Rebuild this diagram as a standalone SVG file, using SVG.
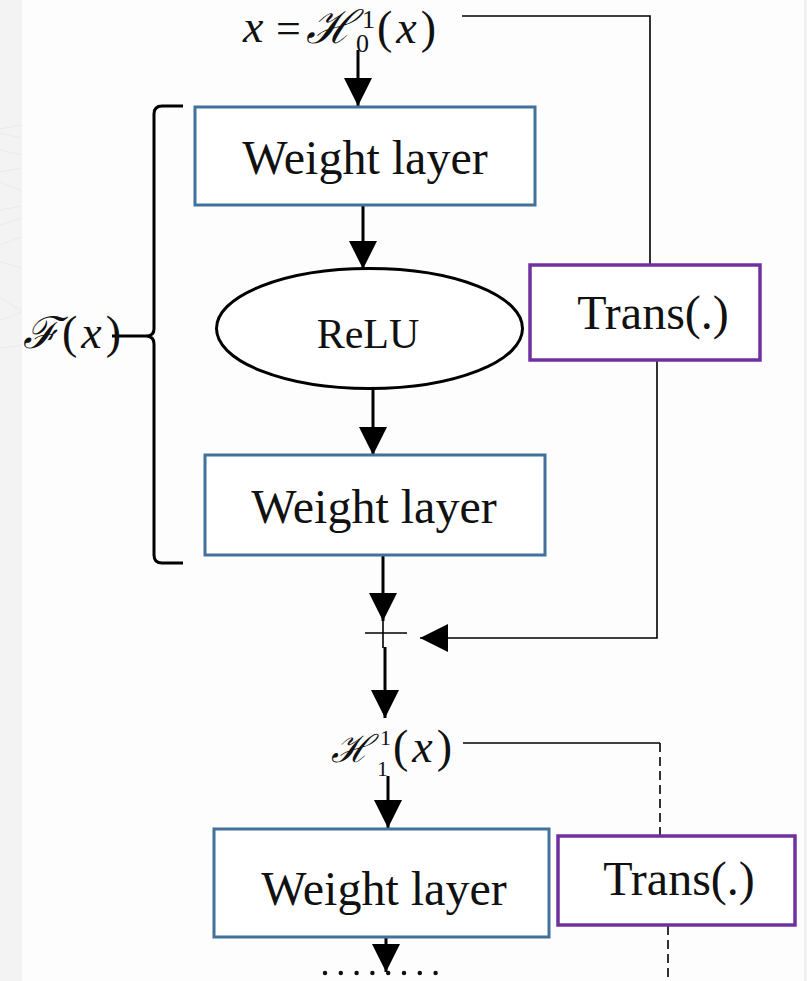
<svg xmlns="http://www.w3.org/2000/svg" width="807" height="981" viewBox="0 0 807 981">
  <style>
    .wl { fill: #ffffff; stroke: #41719c; stroke-width: 3; }
    .tr { fill: #ffffff; stroke: #7030a0; stroke-width: 3.5; }
    .lbl { font-family: "Times New Roman", "Liberation Serif", serif; fill: #111111; text-anchor: middle; }
    .num { font-family: "Liberation Serif", "Times New Roman", serif; fill: #111111; }
    .math { font-family: "Liberation Serif", "Times New Roman", serif; fill: #111111; letter-spacing: 4px; }
    .scr { font-family: "DejaVu Serif", "Liberation Serif", serif; font-style: italic; fill: #111111; }
    .thick { stroke: #000000; stroke-width: 3; fill: none; }
    .thin { stroke: #000000; stroke-width: 1.6; fill: none; }
    .dash { stroke: #000000; stroke-width: 1.6; fill: none; stroke-dasharray: 9 5; }
  </style>
  <defs>
    <marker id="arr" markerWidth="30" markerHeight="30" viewBox="0 0 30 28" refX="28" refY="14" orient="auto" markerUnits="userSpaceOnUse">
      <path d="M0,0 L28,14 L0,28 Z" fill="#000000"/>
    </marker>
  </defs>

  <!-- page background with side margins -->
  <rect x="0" y="0" width="807" height="981" fill="#fdfdfd"/>
  <rect x="0" y="0" width="22" height="981" fill="#f3f3f3"/>
  <rect x="804" y="0" width="3" height="981" fill="#f0f0f0"/>
  <g stroke="#e8e8e8" stroke-width="0.8" fill="none">
    <path d="M0,129 L22,125 M0,133 L22,138 M0,150 L22,155 M0,172 L22,168 M0,182 L22,191 M0,210 L22,206 M0,225 L22,218 M0,245 L22,237 M0,262 L22,268 M0,298 L22,311 M0,320 L22,312 M0,348 L22,345"/>
  </g>

  <!-- connectors -->
  <g id="connectors">
    <line class="thick" x1="358" y1="50" x2="358" y2="106" marker-end="url(#arr)"/>
    <line class="thick" x1="363" y1="206" x2="363" y2="269" marker-end="url(#arr)"/>
    <line class="thick" x1="373" y1="389" x2="373" y2="455" marker-end="url(#arr)"/>
    <line class="thick" x1="383" y1="556" x2="383" y2="621" marker-end="url(#arr)"/>
    <!-- summation junction -->
    <line class="thin" x1="383" y1="620" x2="383" y2="648"/>
    <line class="thin" x1="365" y1="633" x2="407" y2="633"/>
    <line class="thick" x1="385" y1="647" x2="385" y2="718" marker-end="url(#arr)"/>
    <line class="thick" x1="388" y1="776" x2="388" y2="828" marker-end="url(#arr)"/>
    <line class="thick" x1="386" y1="938" x2="386" y2="972" marker-end="url(#arr)"/>
    <!-- shortcut branch -->
    <polyline class="thin" points="462,16 650,16 650,264"/>
    <polyline class="thin" points="657,361 657,638 420,638" marker-end="url(#arr)"/>
    <polyline class="thin" points="463,743 660,743"/>
    <line class="dash" x1="660" y1="743" x2="660" y2="835"/>
    <line class="dash" x1="668" y1="926" x2="668" y2="981"/>
    <!-- continuation dots -->
    <line x1="325" y1="973" x2="437" y2="973" stroke="#111111" stroke-width="4.5" stroke-linecap="round" stroke-dasharray="0 15.8"/>
    <!-- brace grouping the residual function -->
    <path class="thick" d="M183,106 L162,106 Q154,106 154,114 L154,329 Q154,336 146,336 L112,336 M146,336 Q154,336 154,344 L154,555 Q154,563 162,563 L183,563"/>
  </g>

  <!-- input label -->
  <g id="input">
    <text class="math" x="243" y="42" font-size="46" font-style="italic">x</text>
    <text class="num" x="276" y="43" font-size="44">=</text>
    <text class="scr" x="306" y="43" font-size="46">ℋ</text>
    <text class="num" x="362" y="28" font-size="26">1</text>
    <text class="num" x="356" y="52" font-size="26">0</text>
    <text class="math" x="377" y="43" font-size="46">(<tspan font-style="italic">x</tspan>)</text>
  </g>

  <g id="weight1">
    <rect class="wl" x="195" y="107" width="340" height="98"/>
    <text class="lbl" x="365" y="174" font-size="48">Weight layer</text>
  </g>

  <g id="relu">
    <ellipse cx="369.5" cy="328.5" rx="153" ry="60" fill="#ffffff" stroke="#000000" stroke-width="3"/>
    <text class="lbl" x="368" y="348" font-size="42">ReLU</text>
  </g>

  <g id="weight2">
    <rect class="wl" x="205" y="455" width="340" height="100"/>
    <text class="lbl" x="374" y="523" font-size="48">Weight layer</text>
  </g>

  <g id="trans1">
    <rect class="tr" x="530" y="265" width="230" height="95"/>
    <text class="lbl" x="653" y="329" font-size="48">Trans(.)</text>
  </g>

  <g id="fx">
    <text class="scr" x="23" y="348" font-size="44">ℱ</text>
    <text class="math" x="62" y="348" font-size="46">(<tspan font-style="italic">x</tspan>)</text>
  </g>

  <g id="h1">
    <text class="scr" x="331" y="762" font-size="38">ℋ</text>
    <text class="num" x="380" y="745" font-size="22">1</text>
    <text class="num" x="377" y="776" font-size="22">1</text>
    <text class="math" x="393" y="762" font-size="46">(<tspan font-style="italic">x</tspan>)</text>
  </g>

  <g id="weight3">
    <rect class="wl" x="214" y="829" width="335" height="108"/>
    <text class="lbl" x="384" y="905" font-size="48">Weight layer</text>
  </g>

  <g id="trans2">
    <rect class="tr" x="558" y="836" width="237" height="89"/>
    <text class="lbl" x="679" y="895" font-size="48">Trans(.)</text>
  </g>
</svg>
